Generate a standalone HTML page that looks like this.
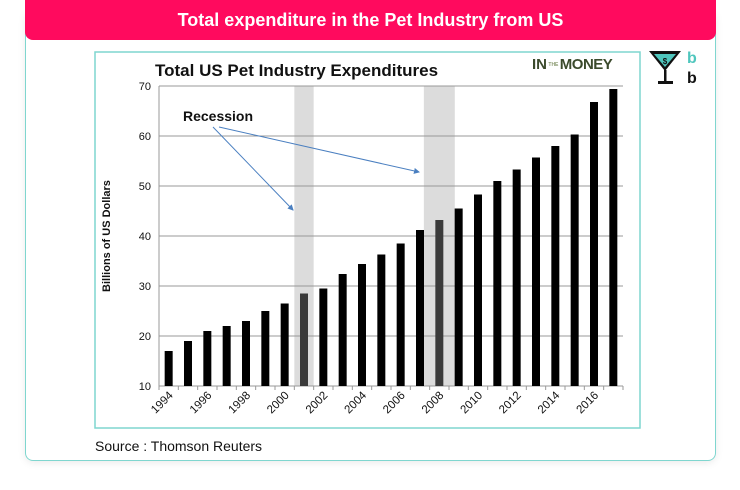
<!DOCTYPE html>
<html><head><meta charset="utf-8"><style>
body{margin:0;width:740px;height:490px;background:#fff;font-family:"Liberation Sans",sans-serif;overflow:hidden;position:relative}
#card{position:absolute;left:25px;top:10px;width:689px;height:449px;border:1px solid #7fd6cf;border-radius:8px;box-shadow:0 2px 8px rgba(0,0,0,0.08)}
#hdr{position:absolute;left:25px;top:0;width:691px;height:40px;background:#ff0a5e;border-radius:0 0 8px 8px;color:#fff;font-weight:bold;font-size:18px;text-align:center;line-height:40px}
#src{position:absolute;left:95px;top:438px;font-size:14px;color:#111}
</style></head><body>
<div id="card"></div>
<div id="hdr">Total expenditure in the Pet Industry from US</div>
<svg id="logo" width="60" height="50" style="position:absolute;left:645px;top:45px">
<polygon points="4,6 36,6 20,26" fill="#111"/><polygon points="9,9 31,9 20,22" fill="#4fc6bd"/>
<text x="20" y="19" font-size="8" text-anchor="middle" font-weight="bold" fill="#111">$</text>
<rect x="19" y="25" width="2.5" height="12" fill="#111"/><rect x="13" y="36" width="15" height="3" fill="#111"/>
<text x="42" y="18" font-size="16" font-weight="bold" fill="#4fc6bd">b</text>
<text x="42" y="38" font-size="16" font-weight="bold" fill="#111">b</text>
</svg>
<svg id="chart" width="740" height="490" style="position:absolute;left:0;top:0"></svg>
<div id="src">Source : Thomson Reuters</div>
<script>
const years=[1994,1995,1996,1997,1998,1999,2000,2001,2002,2003,2004,2005,2006,2007,2008,2009,2010,2011,2012,2013,2014,2015,2016,2017];
const values=[17,19,21,22,23,25,26.5,28.5,29.5,32.4,34.4,36.3,38.5,41.2,43.2,45.5,48.3,51,53.3,55.7,58,60.3,66.8,69.4];
const yTicks=[10,20,30,40,50,60,70];
const recessions=[[2001,2002],[2007.7,2009.3]];
const NS='http://www.w3.org/2000/svg';
const svg=document.getElementById('chart');
const L=159,R=623,T=86,B=386,yMin=10,yMax=70;
const bw=(R-L)/years.length;
const x=i=>L+i*bw; const xy=yr=>L+(yr-years[0])*bw;
const y=v=>B-(v-yMin)/(yMax-yMin)*(B-T);
function el(t,a,p){const e=document.createElementNS(NS,t);for(const k in a)e.setAttribute(k,a[k]);(p||svg).appendChild(e);return e;}
let f=el('rect',{x:95,y:52,width:545,height:376,fill:'#fff',stroke:'#7fd6cf','stroke-width':1.5});


let t=el('text',{x:155,y:76,'font-size':17,'font-weight':'bold',fill:'#111'});t.textContent='Total US Pet Industry Expenditures';


let lg=el('text',{x:532,y:69,'font-size':15,'font-weight':'bold',fill:'#3b4a2c'});


lg.innerHTML='<tspan>IN</tspan><tspan font-size="5" dy="-3" fill="#8a9a70"> THE </tspan><tspan dy="3" letter-spacing="-0.5">MONEY</tspan>';
recessions.forEach(r=>{const e=el('rect',{x:xy(r[0]),y:T,width:xy(r[1])-xy(r[0]),height:B-T,fill:'#dcdcdc'});

});
yTicks.forEach(v=>{el('line',{x1:L,x2:R,y1:y(v),y2:y(v),stroke:'#999','stroke-width':1});
const tx=el('text',{x:L-8,y:y(v)+4,'font-size':11,'text-anchor':'end',fill:'#111'});tx.textContent=v;

});
el('line',{x1:L,x2:L,y1:T,y2:B,stroke:'#999'});
values.forEach((v,i)=>{const inRec=recessions.some(r=>years[i]+0.5>r[0]&&years[i]+0.5<r[1]);
const b=el('rect',{x:x(i)+bw/2-4,y:y(v),width:8,height:B-y(v),fill:inRec?'#3a3a3a':'#000'});

});
for(let i=0;i<=years.length;i++)el('line',{x1:x(i),x2:x(i),y1:B,y2:B+4,stroke:'#999'});
years.forEach((yr,i)=>{if(i%2)return;const cx=x(i)+bw/2+5,cy=B+10;
const tx=el('text',{x:cx,y:cy,'font-size':11.5,'text-anchor':'end',fill:'#111',transform:`rotate(-45 ${cx} ${cy})`});tx.textContent=yr;

});
const yt=el('text',{x:110,y:236,'font-size':11,'font-weight':'bold','text-anchor':'middle',fill:'#111',transform:'rotate(-90 110 236)'});yt.textContent='Billions of US Dollars';


const rt=el('text',{x:183,y:121,'font-size':14,'font-weight':'bold',fill:'#111'});rt.textContent='Recession';


const d=el('defs',{});const m=el('marker',{id:'ah',markerWidth:6,markerHeight:6,refX:5,refY:3,orient:'auto'},d);el('path',{d:'M0,0 L6,3 L0,6z',fill:'#4a7fc0'},m);
[[213,127,293,210],[219,127,419,172]].forEach(a=>{const ln=el('line',{x1:a[0],y1:a[1],x2:a[2],y2:a[3],stroke:'#4a7fc0','stroke-width':1,'marker-end':'url(#ah)'});

});
</script>
</body></html>
